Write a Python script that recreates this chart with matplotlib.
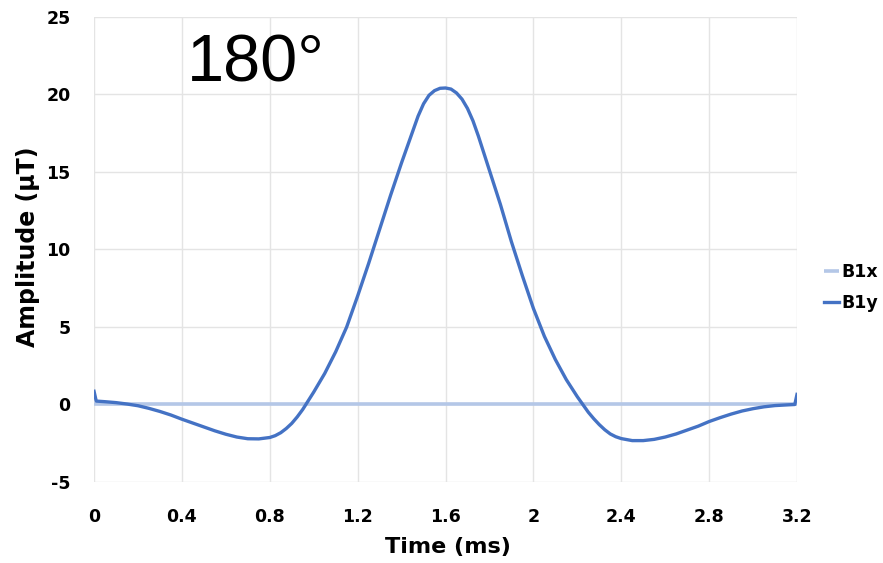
import matplotlib
matplotlib.use("Agg")
import matplotlib.pyplot as plt

plt.rcParams['axes.unicode_minus'] = False

# time (ms) and amplitude (uT)
time_ms = [0.00, 0.01, 0.05, 0.10, 0.15, 0.20, 0.25, 0.30, 0.35, 0.40,
           0.45, 0.50, 0.55, 0.60, 0.65, 0.70, 0.75, 0.80, 0.825, 0.85,
           0.875, 0.90, 0.925, 0.95, 1.00, 1.05, 1.10, 1.15, 1.20, 1.25,
           1.30, 1.35, 1.40, 1.45, 1.475, 1.50, 1.525, 1.55, 1.575, 1.60,
           1.625, 1.65, 1.675, 1.70, 1.725, 1.75, 1.80, 1.85, 1.90, 1.95,
           2.00, 2.05, 2.10, 2.15, 2.20, 2.25, 2.275, 2.30, 2.325, 2.35,
           2.375, 2.40, 2.45, 2.50, 2.55, 2.60, 2.65, 2.70, 2.75, 2.80,
           2.85, 2.90, 2.95, 3.00, 3.05, 3.10, 3.15, 3.19, 3.20]
b1y = [0.85, 0.22, 0.18, 0.12, 0.03, -0.08, -0.25, -0.45, -0.68, -0.95,
       -1.20, -1.45, -1.70, -1.92, -2.10, -2.21, -2.22, -2.13, -2.01, -1.82,
       -1.55, -1.22, -0.80, -0.32, 0.80, 2.00, 3.40, 5.00, 7.00, 9.10,
       11.30, 13.50, 15.60, 17.60, 18.60, 19.40, 19.95, 20.25, 20.40, 20.42,
       20.35, 20.10, 19.70, 19.10, 18.30, 17.30, 15.10, 12.90, 10.50, 8.30,
       6.20, 4.40, 2.90, 1.60, 0.50, -0.50, -0.92, -1.30, -1.63, -1.90,
       -2.08, -2.20, -2.33, -2.33, -2.25, -2.10, -1.90, -1.65, -1.40, -1.10,
       -0.85, -0.62, -0.42, -0.27, -0.15, -0.07, -0.03, 0.00, 0.65]
b1x_t = [0.0, 3.2]
b1x = [0.0, 0.0]

xticks = [0, 0.4, 0.8, 1.2, 1.6, 2.0, 2.4, 2.8, 3.2]
yticks = [-5, 0, 5, 10, 15, 20, 25]

fnt = ['DejaVu Sans']

fig = plt.figure(figsize=(8.83, 5.63), dpi=100)
ax = fig.add_axes([0.1065, 0.1439, 0.7961, 0.8259])

ax.plot(b1x_t, b1x, color='#b4c7e7', lw=2.6, label='B1x', solid_capstyle='butt')
ax.plot(time_ms, b1y, color='#4472c4', lw=2.4, label='B1y', solid_joinstyle='round')

ax.set_xlim(0, 3.2)
ax.set_ylim(-5, 25)
ax.set_xticks(xticks)
ax.set_xticklabels(['{:g}'.format(v) for v in xticks])
ax.set_yticks(yticks)
ax.grid(True, color='#e4e4e4', lw=1)
ax.set_axisbelow(True)
for s in ax.spines.values():
    s.set_visible(False)
ax.tick_params(length=0)
ax.tick_params(axis='x', pad=19)
ax.tick_params(axis='y', pad=17)
for lab in ax.get_xticklabels() + ax.get_yticklabels():
    lab.set_family(fnt)
    lab.set_fontweight('bold')
    lab.set_fontsize(12.5)

ax.set_xlabel('Time (ms)', family=fnt, fontweight='bold', fontsize=16)
ax.set_ylabel('Amplitude (µT)', family=fnt, fontweight='bold', fontsize=17)
ax.xaxis.set_label_coords(0.503, -0.118)
ax.yaxis.set_label_coords(-0.077, 0.505)

fig.text(0.212, 0.885, '180°', fontsize=48, family=['Liberation Sans', 'DejaVu Sans'],
         va='center', ha='left')

leg = fig.legend(loc='center left', bbox_to_anchor=(0.933, 0.49), frameon=False,
                 handlelength=0.9, handletextpad=0.1, labelspacing=0.75,
                 borderpad=0, borderaxespad=0,
                 prop={'family': fnt, 'weight': 'bold', 'size': 12.5})

fig.savefig('out.png', dpi=100)
